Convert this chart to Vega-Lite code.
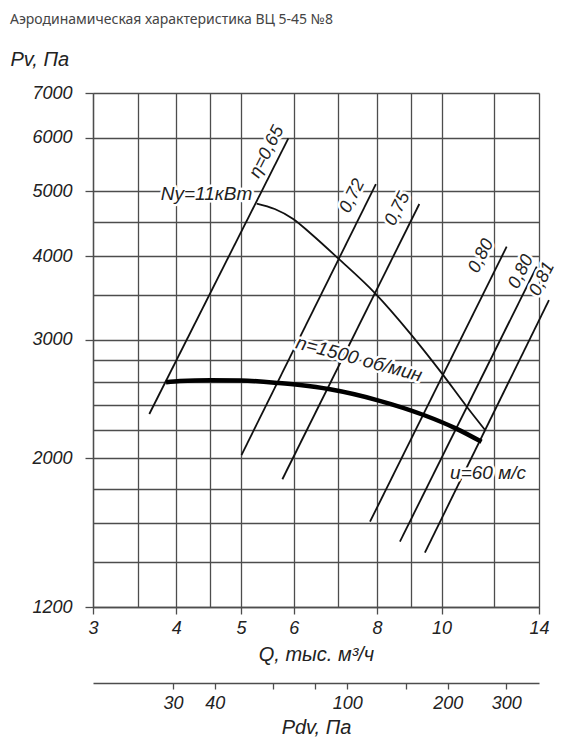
{
  "$schema": "https://vega.github.io/schema/vega-lite/v6.json",
  "width": 446,
  "height": 514,
  "autosize": {"type": "none"},
  "padding": {"left": 93, "top": 93, "right": 49, "bottom": 143},
  "background": "white",
  "title": {
    "text": "Аэродинамическая характеристика ВЦ 5-45 №8",
    "anchor": "start",
    "frame": "group",
    "dx": -83,
    "offset": 11,
    "baseline": "alphabetic",
    "font": "Noto Sans",
    "fontSize": 14,
    "fontWeight": "normal",
    "color": "#444444"
  },
  "config": {
    "view": {"stroke": null},
    "axis": {
      "gridColor": "#4d4d4d",
      "gridWidth": 1.3,
      "gridOpacity": 1,
      "domainColor": "#4d4d4d",
      "domainWidth": 1.3,
      "tickColor": "#4d4d4d",
      "tickWidth": 1.3,
      "labelFont": "Liberation Sans",
      "labelFontStyle": "italic",
      "labelFontSize": 18,
      "labelColor": "#222222",
      "labelFlush": false,
      "labelOverlap": false,
      "labelBound": false,
      "titleFont": "Liberation Sans",
      "titleFontStyle": "italic",
      "titleFontWeight": "normal",
      "titleFontSize": 20,
      "titleColor": "#222222"
    }
  },
  "datasets": {
    "curves": [
      {"series": "n1500", "Q": 3.86, "Pv": 2594},
      {"series": "n1500", "Q": 4.05, "Pv": 2606},
      {"series": "n1500", "Q": 4.5, "Pv": 2612},
      {"series": "n1500", "Q": 5.0, "Pv": 2610},
      {"series": "n1500", "Q": 5.7, "Pv": 2588},
      {"series": "n1500", "Q": 6.13, "Pv": 2570},
      {"series": "n1500", "Q": 6.8, "Pv": 2533},
      {"series": "n1500", "Q": 8.0, "Pv": 2441},
      {"series": "n1500", "Q": 9.4, "Pv": 2319},
      {"series": "n1500", "Q": 10.5, "Pv": 2215},
      {"series": "n1500", "Q": 11.48, "Pv": 2115},
      {"series": "N", "Q": 5.28, "Pv": 4791},
      {"series": "N", "Q": 5.62, "Pv": 4702},
      {"series": "N", "Q": 5.99, "Pv": 4544},
      {"series": "N", "Q": 6.35, "Pv": 4330},
      {"series": "N", "Q": 6.99, "Pv": 3972},
      {"series": "N", "Q": 7.95, "Pv": 3520},
      {"series": "N", "Q": 8.97, "Pv": 3069},
      {"series": "N", "Q": 10.01, "Pv": 2675},
      {"series": "N", "Q": 10.91, "Pv": 2386},
      {"series": "N", "Q": 11.62, "Pv": 2203},
      {"series": "eta065", "Q": 3.644, "Pv": 2327},
      {"series": "eta065", "Q": 5.89, "Pv": 5992},
      {"series": "eta072", "Q": 5.01, "Pv": 2021},
      {"series": "eta072", "Q": 7.97, "Pv": 5122},
      {"series": "eta075", "Q": 5.77, "Pv": 1860},
      {"series": "eta075", "Q": 9.26, "Pv": 4783},
      {"series": "eta080a", "Q": 7.81, "Pv": 1608},
      {"series": "eta080a", "Q": 12.52, "Pv": 4131},
      {"series": "eta080b", "Q": 8.66, "Pv": 1502},
      {"series": "eta080b", "Q": 13.89, "Pv": 3857},
      {"series": "eta081", "Q": 9.44, "Pv": 1446},
      {"series": "eta081", "Q": 14.49, "Pv": 3440}
    ],
    "labels": [
      {"kind": "eta", "label": "η=0,65", "Q": 5.47, "Pv": 5718},
      {"kind": "eta", "label": "0,72", "Q": 7.35, "Pv": 4916},
      {"kind": "eta", "label": "0,75", "Q": 8.59, "Pv": 4702},
      {"kind": "eta", "label": "0,80", "Q": 11.47, "Pv": 4001},
      {"kind": "eta", "label": "0,80", "Q": 13.16, "Pv": 3791},
      {"kind": "eta", "label": "0,81", "Q": 14.15, "Pv": 3697},
      {"kind": "speed", "label": "n=1500 об/мин", "Q": 7.52, "Pv": 2810},
      {"kind": "plain", "label": "Nу=11кВт", "Q": 4.44, "Pv": 4948},
      {"kind": "plain", "label": "u=60 м/с", "Q": 11.74, "Pv": 1900}
    ],
    "pdv": [
      {"Pdv": 30},
      {"Pdv": 300}
    ]
  },
  "layer": [
    {
      "encoding": {
        "x": {
          "field": "Q",
          "type": "quantitative",
          "scale": {"type": "log", "domain": [3, 14], "nice": false},
          "axis": {
            "orient": "bottom",
            "values": [3, 3.5, 4, 4.5, 5, 6, 7, 8, 9, 10, 12, 14],
            "format": "d",
            "labelExpr": "indexof([3,4,5,6,8,10,14], datum.value) >= 0 ? datum.label : ''",
            "tickOpacity": {"condition": {"test": "indexof([3,4,5,6,8,10,14], datum.value) >= 0", "value": 1}, "value": 0},
            "tickSize": 7,
            "grid": true,
            "labelPadding": 5,
            "title": "Q, тыс. м³/ч",
            "titlePadding": 7
          }
        },
        "y": {
          "field": "Pv",
          "type": "quantitative",
          "scale": {"type": "log", "domain": [1200, 7000], "nice": false},
          "axis": {
            "values": [1200, 1400, 1600, 1800, 2000, 2200, 2400, 2600, 2800, 3000, 3500, 4000, 4500, 5000, 6000, 7000],
            "format": "d",
            "labelExpr": "indexof([1200,2000,3000,4000,5000,6000,7000], datum.value) >= 0 ? datum.label : ''",
            "tickOpacity": {"condition": {"test": "indexof([1200,2000,3000,4000,5000,6000,7000], datum.value) >= 0", "value": 1}, "value": 0},
            "tickSize": 8,
            "grid": true,
            "labelPadding": 13,
            "labelBaseline": "middle",
            "title": "Pv, Па",
            "titleAngle": 0,
            "titleAlign": "left",
            "titleBaseline": "alphabetic",
            "titleX": -83,
            "titleY": -28
          }
        }
      },
      "layer": [
        {
          "data": {"name": "curves"},
          "transform": [{"filter": "datum.series !== 'n1500'"}],
          "mark": {"type": "line", "color": "#111111", "strokeWidth": 1.8, "interpolate": "monotone", "clip": false},
          "encoding": {"detail": {"field": "series", "type": "nominal"}}
        },
        {
          "data": {"name": "curves"},
          "transform": [{"filter": "datum.series === 'n1500'"}],
          "mark": {"type": "line", "color": "#000000", "strokeWidth": 4.5, "interpolate": "monotone", "strokeCap": "butt"},
          "encoding": {"detail": {"field": "series", "type": "nominal"}}
        },
        {
          "data": {"name": "labels"},
          "transform": [{"filter": "datum.kind === 'eta'"}],
          "mark": {"type": "text", "angle": 296.8, "font": "Liberation Sans", "fontStyle": "italic", "fontSize": 18, "fill": "white", "stroke": "white", "strokeWidth": 5, "strokeJoin": "round", "align": "center", "baseline": "middle"},
          "encoding": {"text": {"field": "label"}}
        },
        {
          "data": {"name": "labels"},
          "transform": [{"filter": "datum.kind === 'eta'"}],
          "mark": {"type": "text", "angle": 296.8, "font": "Liberation Sans", "fontStyle": "italic", "fontSize": 18, "fill": "#222222", "align": "center", "baseline": "middle"},
          "encoding": {"text": {"field": "label"}}
        },
        {
          "data": {"name": "labels"},
          "transform": [{"filter": "datum.kind === 'speed'"}],
          "mark": {"type": "text", "angle": 15, "font": "Liberation Sans", "fontStyle": "italic", "fontSize": 19, "fill": "white", "stroke": "white", "strokeWidth": 5, "strokeJoin": "round", "align": "center", "baseline": "middle"},
          "encoding": {"text": {"field": "label"}}
        },
        {
          "data": {"name": "labels"},
          "transform": [{"filter": "datum.kind === 'speed'"}],
          "mark": {"type": "text", "angle": 15, "font": "Liberation Sans", "fontStyle": "italic", "fontSize": 19, "fill": "#222222", "align": "center", "baseline": "middle"},
          "encoding": {"text": {"field": "label"}}
        },
        {
          "data": {"name": "labels"},
          "transform": [{"filter": "datum.kind === 'plain'"}],
          "mark": {"type": "text", "font": "Liberation Sans", "fontStyle": "italic", "fontSize": 19, "fill": "white", "stroke": "white", "strokeWidth": 5, "strokeJoin": "round", "align": "center", "baseline": "middle"},
          "encoding": {"text": {"field": "label"}}
        },
        {
          "data": {"name": "labels"},
          "transform": [{"filter": "datum.kind === 'plain'"}],
          "mark": {"type": "text", "font": "Liberation Sans", "fontStyle": "italic", "fontSize": 19, "fill": "#222222", "align": "center", "baseline": "middle"},
          "encoding": {"text": {"field": "label"}}
        }
      ]
    },
    {
      "data": {"name": "pdv"},
      "mark": {"type": "point", "opacity": 0},
      "encoding": {
        "x": {
          "field": "Pdv",
          "type": "quantitative",
          "scale": {"type": "log", "domain": [17.26, 375.9], "nice": false},
          "axis": {
            "orient": "bottom",
            "offset": 76,
            "values": [30, 40, 60, 80, 100, 150, 200, 300],
            "format": "d",
            "labelExpr": "indexof([30,40,100,200,300], datum.value) >= 0 ? datum.label : ''",
            "grid": false,
            "tickSize": 6,
            "labelPadding": 5,
            "title": "Pdv, Па",
            "titlePadding": 5
          }
        }
      }
    }
  ],
  "resolve": {"scale": {"x": "independent"}, "axis": {"x": "independent"}}
}
